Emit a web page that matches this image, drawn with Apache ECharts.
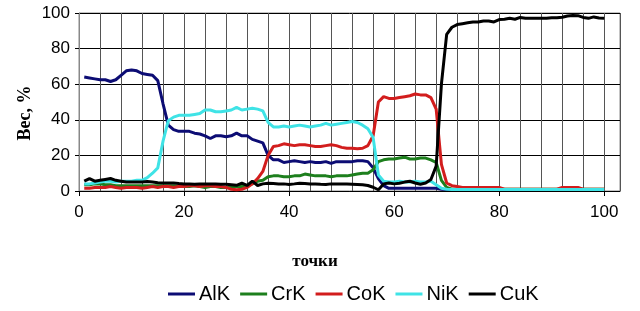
<!DOCTYPE html>
<html>
<head>
<meta charset="utf-8">
<script src="https://cdn.jsdelivr.net/npm/echarts@6/dist/echarts.min.js"></script>
<style>
html,body{margin:0;padding:0;background:#fff;}
#chart{width:640px;height:311px;}
</style>
</head>
<body>
<div id="chart"></div>
<script>
var points = [1,2,3,4,5,6,7,8,9,10,11,12,13,14,15,16,17,18,19,20,21,22,23,24,25,26,27,28,29,30,31,32,33,34,35,36,37,38,39,40,41,42,43,44,45,46,47,48,49,50,51,52,53,54,55,56,57,58,59,60,61,62,63,64,65,66,67,68,69,70,71,72,73,74,75,76,77,78,79,80,81,82,83,84,85,86,87,88,89,90,91,92,93,94,95,96,97,98,99,100];

var alK = [64,63.5,63,62.5,62.5,61.5,62.5,65,67.5,68,
  67.5,66,65.5,65,62,49,37,34.5,33.5,33.5,
  33.5,32.5,32,31,29.5,31,31,30.5,31,32.5,
  31,31,29,28,27,20,17.5,17.5,16,16.5,
  17,16.5,16,16.5,16,16,16.5,15.5,16.5,16.5,
  16.5,16.5,17,17,16.5,13,7,3,1.5,1.5,
  1.5,1.5,1.5,1.5,1.5,1.5,1.5,1.5,1,0.8,
  0.8,0.8,0.8,0.8,0.8,0.8,0.8,0.8,0.8,0.8,
  0.8,0.8,0.8,0.8,0.8,0.8,0.8,0.8,0.8,0.8,
  0.8,0.8,0.8,0.8,0.8,0.8,0.8,0.8,0.8,0.8];

var crK = [3.5,3.5,4,4,3.5,3.5,3,3,3,3,
  3,3,3,3,3,3,3,3,2.5,2.5,
  2.5,3,2.5,2,2.5,2.5,2,2,2,2.5,
  2.5,3,4,5.5,6,8,8.5,8.5,8,8,
  8.5,8.5,9.5,9,8.5,8.5,8.5,8,8.5,8.5,
  8.5,9,9.5,10,10,12,16.5,17.5,18,18,
  18.5,19,18,18,18.5,18.5,17.5,16,6,2,
  1,1,1,1,1,1,1,1,1,1,
  1,1,1,1,1,1,1,1,1,1,
  1,1,1,1,1,1,1,1,1,1];

var coK = [1.5,1.5,2,2,2,2.5,2,1.5,2,2,
  2,1.5,2,2.5,2,2.5,2.5,2,2.5,2.5,
  3,3,2.5,3,3,2.5,2.5,2,1,0.7,
  1,2,4,7,11,20,25,25.5,26.5,26,
  25.5,26,26,25.5,25,25,25.5,26,25.5,24.5,
  24,24,23.8,24,25.5,31,50,53,52,52,
  52.5,53,53.5,54.5,54,54,52.5,46,15,4.5,
  3,2.5,2,2,2,2,2,2,2,2,
  1,1,1,1,1,1,1,1,1,1,
  1,2,2,2,2,1,1,1,1,1];

var niK = [4,4,4.5,5,5.5,5.5,5,5.5,5.5,5.5,
  6,6,7.5,10,13,28,39.5,41.5,42.5,42.5,
  42.5,43,43.5,45.5,45.5,44.5,44.5,45,45.5,47,
  45.5,46,46.5,46,45,38.5,36,36,36.5,36,
  36.5,37,36.5,36,36.5,37,38,37,37.5,38,
  38.5,39,38.5,37,35,30,9,5.5,5,5,
  5.5,5,5,5.5,5,5,5.5,3.5,1.5,1,
  0.8,0.8,0.8,0.8,0.8,0.8,0.8,0.8,0.8,0.8,
  0.8,0.8,0.8,0.8,0.8,0.8,0.8,0.8,0.8,0.8,
  0.8,0.8,0.8,0.8,0.8,0.8,0.8,0.8,0.8,0.8];

var cuK = [5.5,7,5.5,6,6.5,7,6,5.5,5,5,
  5,5,5.3,5,4.7,4.5,4.5,4.5,4.2,4,
  4,3.8,4,4,4,4,3.8,3.8,3.5,3.2,
  4.4,3.1,5.5,3.1,4,4.4,4.2,4,4,3.7,
  4,4.4,4.2,4,4,3.8,3.7,4,4,4,
  3.9,3.8,3.7,3.5,3.1,2.1,0.7,4,4.5,4,
  4.4,5,5.5,4.5,3.8,4.5,6.5,14,60,88,
  92,93.5,94,94.5,95,95,95.5,95.5,95,96.3,
  96.5,97,96.5,97.5,97,97,97,97,97,97.3,
  97.3,97.6,98.3,98.6,98.5,97.5,97,97.8,97.2,97];

var seriesNames = ['AlK','CrK','CoK','NiK','CuK'];
var seriesColors = ['#0c0c74','#1d7f1d','#d21d1d','#3fe3e6','#000000'];
var xTickLabels = [0,20,40,60,80,100];

var allData = [alK, crK, coK, niK, cuK];
function pairs(arr){ return arr.map(function(v,i){ return [points[i], v]; }); }

var chart = echarts.init(document.getElementById('chart'), null, {renderer:'canvas'});
var sans = 'Liberation Sans, Arial, sans-serif';
var serif = 'Liberation Serif, Times New Roman, serif';

chart.setOption({
  animation:false,
  backgroundColor:'#ffffff',
  grid:{left:79, right:20, top:13, bottom:120, containLabel:false,
        show:true, borderColor:'#888', borderWidth:1, backgroundColor:'transparent'},
  xAxis:[
    {type:'value', min:0, max:103, interval:4,
     axisLine:{show:false}, axisTick:{show:false}, axisLabel:{show:false},
     splitLine:{show:true, lineStyle:{color:'#555', width:1}}},
    {type:'value', min:0, max:103, position:'bottom',
     axisLine:{show:true, onZero:false, lineStyle:{color:'#000', width:1}},
     axisTick:{show:true, length:5, customValues:xTickLabels, lineStyle:{color:'#000'}},
     axisLabel:{show:true, customValues:xTickLabels, margin:13, color:'#000', fontSize:17, fontFamily:sans},
     splitLine:{show:false}}
  ],
  yAxis:{type:'value', min:0, max:100, interval:20,
    axisLine:{show:true, lineStyle:{color:'#888', width:1}},
    axisTick:{show:true, length:4, lineStyle:{color:'#000'}},
    axisLabel:{color:'#000', fontSize:17, fontFamily:sans, margin:9},
    splitLine:{show:true, lineStyle:{color:'#000', width:1}}},
  legend:{left:168, top:284, itemWidth:27, itemHeight:3, itemGap:10, icon:'rect', padding:0,
    data:seriesNames,
    textStyle:{color:'#000', fontSize:20, fontFamily:sans, padding:[0,0,0,-1]}},
  graphic:[
    {type:'text', x:25, y:113, rotation:Math.PI/2,
     style:{text:'Вес, %', font:'bold 18px '+serif, fill:'#000', textAlign:'center', textVerticalAlign:'middle'}},
    {type:'text', x:315, y:262,
     style:{text:'точки', font:'bold 17px '+serif, fill:'#000', textAlign:'center', textVerticalAlign:'middle'}}
  ],
  series: seriesNames.map(function(n, k){
    return {name:n, type:'line', xAxisIndex:0, data:pairs(allData[k]), showSymbol:false, symbol:'none',
      lineStyle:{color:seriesColors[k], width:3}, itemStyle:{color:seriesColors[k]}, z:2+k};
  })
});
</script>
</body>
</html>
